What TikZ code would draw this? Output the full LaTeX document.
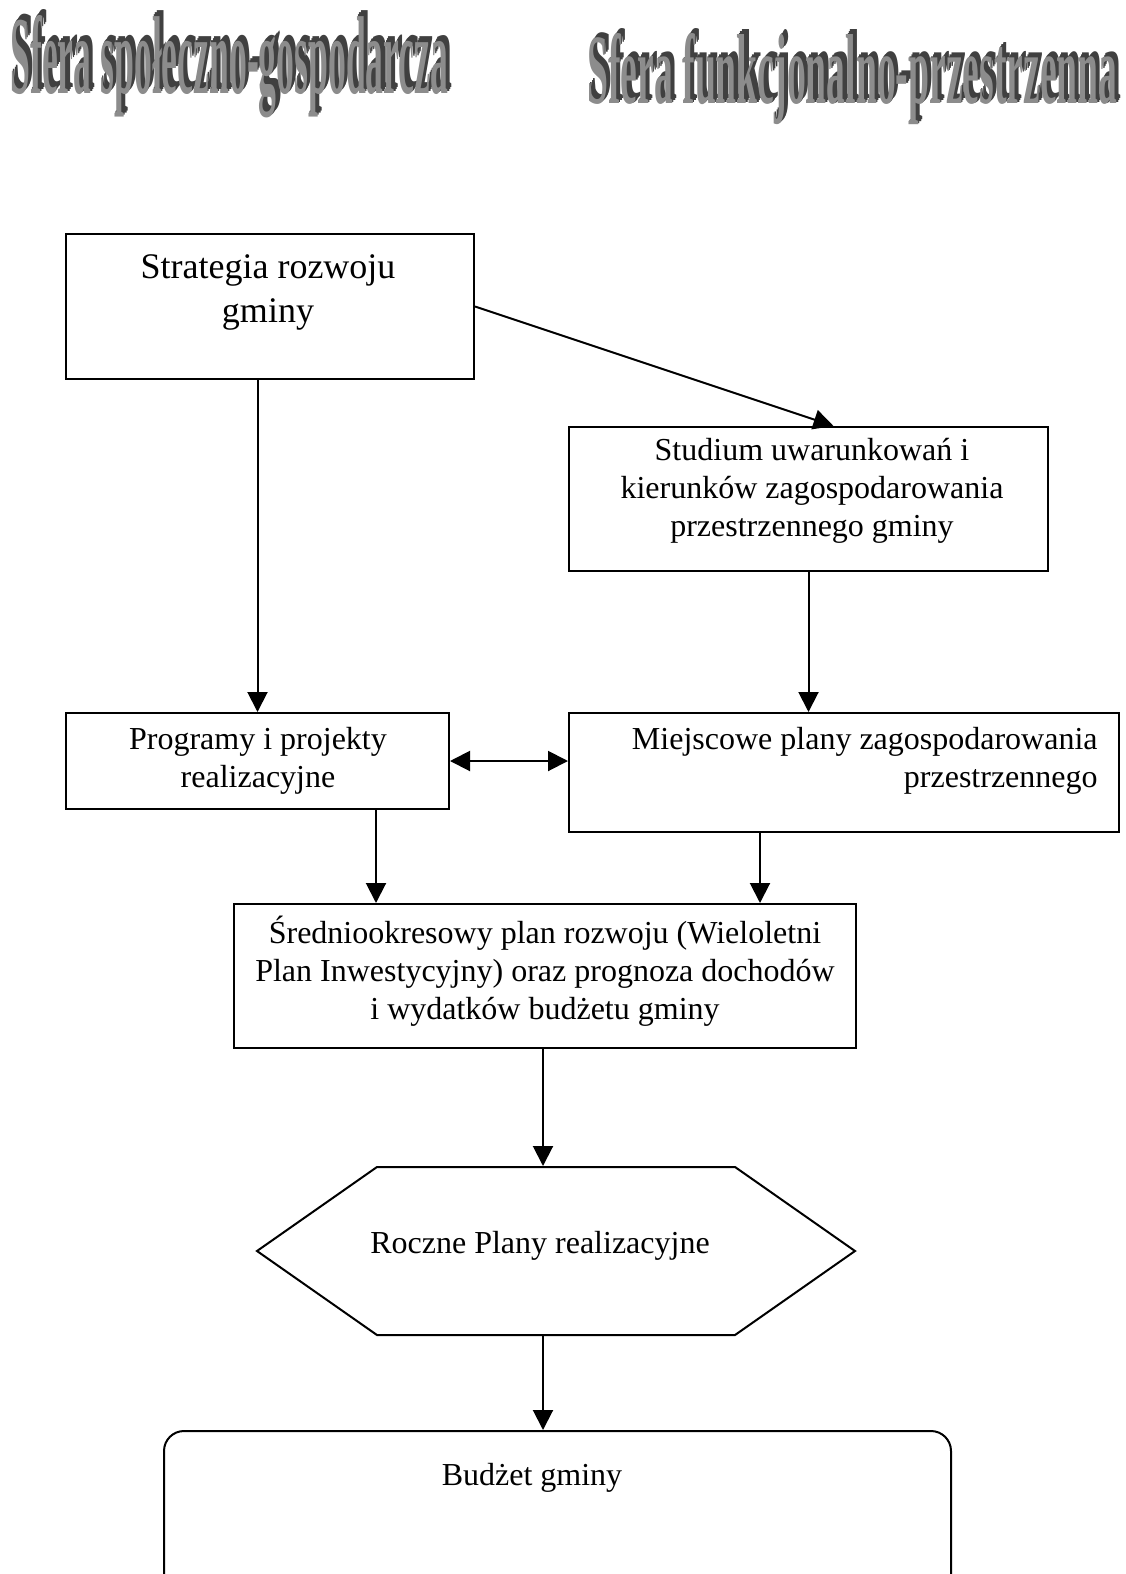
\documentclass[tikz,border=0pt]{standalone}
\usepackage{fontspec}
\setmainfont{Liberation Serif}
\usetikzlibrary{arrows.meta,calc,shapes.symbols}
\tikzset{
	box/.style={draw, line width=1pt, inner sep=0pt, anchor=north west},
	txt/.style={align=center, inner sep=0pt, font=\fontsize{16}{19}\selectfont},
	arr/.style={line width=1pt, -{Triangle[length=10pt,width=10pt]}},
	wordback/.style={anchor=base west, inner sep=0pt, text=black!75},
	wordfront/.style={anchor=base west, inner sep=0pt, text=black!45}
}
\newcommand{\sferaA}{\resizebox{219pt}{39pt}{\bfseries Sfera społeczno-gospodarcza}}
\newcommand{\sferaB}{\resizebox{265pt}{35pt}{\bfseries Sfera funkcjonalno-przestrzenna}}
\begin{document}
\begin{tikzpicture}[x=0.5pt, y=-0.5pt]
		\useasboundingbox (0,0) rectangle (1125,1574);
		
		\foreach \d in {3,2,1}
		{
			\node[wordback] (ta-\d) at (10+1.4*\d, 93-1.8*\d) {\sferaA};
			\node[wordback] (tb-\d) at (587+1.4*\d, 104-1.8*\d) {\sferaB};
		}
		\node[wordfront] (ta) at (10,93) {\sferaA};
		\node[wordfront] (tb) at (587,104) {\sferaB};
		
		\node[box, minimum width=204pt, minimum height=72.5pt] (strat) at (65,233) {};
		\node[box, minimum width=239.5pt, minimum height=72pt] (stud) at (568,426) {};
		\node[box, minimum width=191.5pt, minimum height=48pt] (prog) at (65,712) {};
		\node[box, minimum width=275pt, minimum height=59.5pt] (miej) at (568,712) {};
		\node[box, minimum width=311pt, minimum height=72pt] (sred) at (233,903) {};
		\node[draw, line width=1pt, inner sep=0pt, signal, signal to=west and east, signal pointer angle=70,
			minimum width=299pt, minimum height=84pt] (hex) at (556,1251) {};
		\node[box, rounded corners=10pt, minimum width=393.5pt, minimum height=100pt] (bud) at (163,1430) {};
		
		\node[txt, font=\fontsize{18}{22}\selectfont] (strat-t) at (268,292) {Strategia rozwoju\\gminy};
		\node[txt] (stud-t) at (812,491) {Studium uwarunkowań i\\kierunków zagospodarowania\\przestrzennego gminy};
		\node[txt] (prog-t) at (258,761) {Programy i projekty\\realizacyjne};
		\node[txt, align=right, anchor=east] (miej-t) at (1098,761) {Miejscowe plany zagospodarowania\\przestrzennego};
		\node[txt] (sred-t) at (545,971) {Średniookresowy plan rozwoju (Wieloletni\\Plan Inwestycyjny) oraz prognoza dochodów\\i wydatków budżetu gminy};
		\node[txt] (hex-t) at (540,1246) {Roczne Plany realizacyjne};
		\node[txt] (bud-t) at (532,1478) {Budżet gminy};
		
		\coordinate (xa) at (376,0);
		\coordinate (xb) at (760,0);
		\coordinate (xc) at (543,0);
		
		\draw[arr] (strat.south -| prog.north) -- (prog.north);
		\draw[arr] (strat.east) -- ($(stud.north)+(25,0)$);
		\draw[arr] (stud.south) -- (stud.south |- miej.north);
		\draw[arr, {Triangle[length=10pt,width=10pt]}-{Triangle[length=10pt,width=10pt]}] (prog.east) -- (prog.east -| miej.west);
		\draw[arr] (prog.south -| xa) -- (sred.north -| xa);
		\draw[arr] (miej.south -| xb) -- (sred.north -| xb);
		\draw[arr] (sred.south -| xc) -- (hex.north -| xc);
		\draw[arr] (hex.south -| xc) -- (bud.north -| xc);
	\end{tikzpicture}
\end{document}
